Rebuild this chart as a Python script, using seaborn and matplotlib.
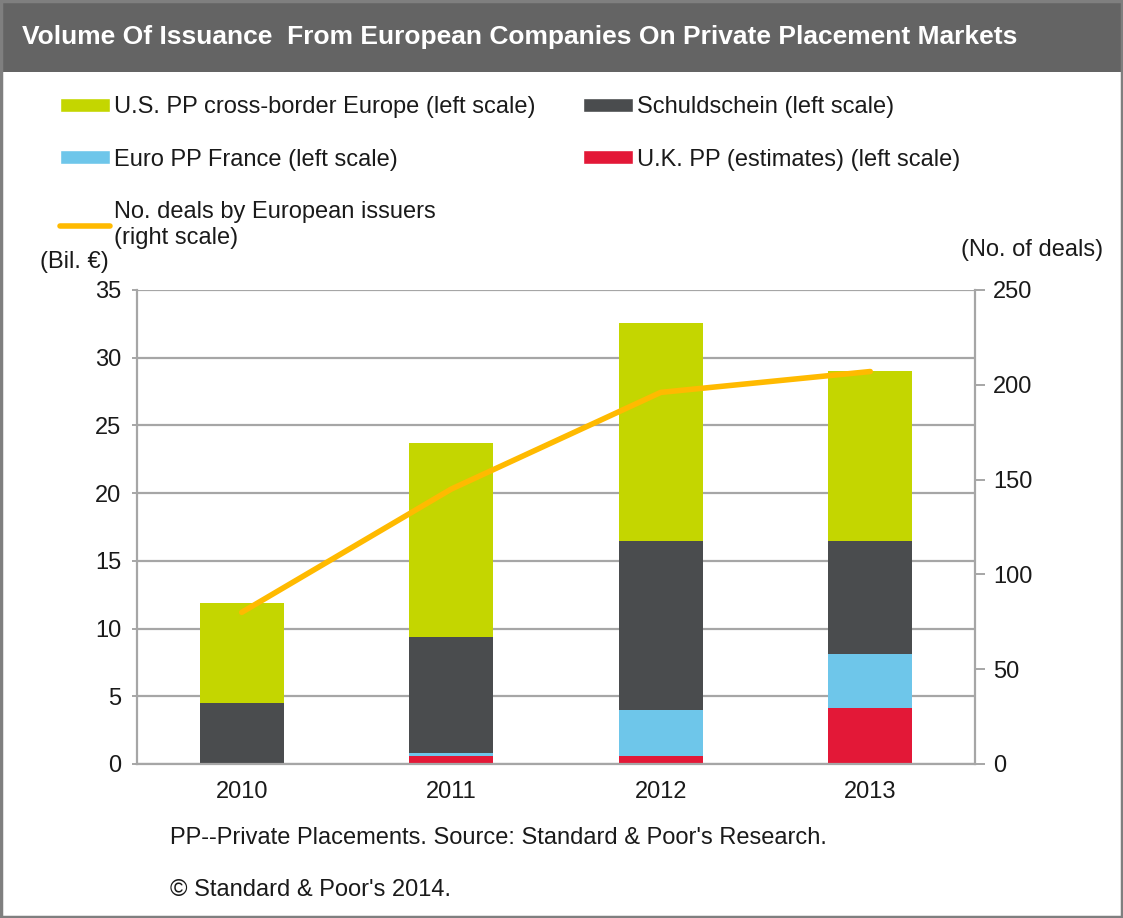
"""
Volume of issuance from European companies on private placement markets.

Stacked bars (left scale, bil. EUR) with number of deals line (right scale).
Output: out.png
"""

import matplotlib.pyplot as plt
import numpy as np
import pandas as pd
import seaborn as sns
from matplotlib.lines import Line2D
from matplotlib.patches import Patch, Rectangle

YEARS = ["2010", "2011", "2012", "2013"]
UK_PP = [0.0, 0.6, 0.6, 4.1]
EURO_PP = [0.0, 0.2, 3.4, 4.0]
SCHULDSCHEIN = [4.5, 8.6, 12.5, 8.4]
US_PP = [7.4, 14.3, 16.1, 12.5]
DEALS = [80, 145, 196, 207]

SERIES = [
    ("U.S. PP cross-border Europe (left scale)", US_PP, "#C4D600"),
    ("Schuldschein (left scale)", SCHULDSCHEIN, "#4A4C4E"),
    ("Euro PP France (left scale)", EURO_PP, "#6EC6EA"),
    ("U.K. PP (estimates) (left scale)", UK_PP, "#E31837"),
]
LINE_LABEL = "No. deals by European issuers\n(right scale)"
LINE_COLOR = "#FFBA00"
GRID = "#A6A6A6"
TEXT = "#1A1A1A"
FS = 17

DPI = 100


def main() -> None:
    sns.set_style("white")
    plt.rcParams["font.family"] = ["Liberation Sans", "DejaVu Sans"]

    fig = plt.figure(figsize=(11.23, 9.18), dpi=DPI)
    ax = fig.add_axes([137 / 1123, 1 - 764 / 918, 838 / 1123, 474 / 918])

    # stacked bars: draw cumulative totals from the top segment down
    stack = np.vstack([s[1] for s in SERIES[::-1]])  # bottom -> top
    cum = np.cumsum(stack, axis=0)
    for i, (name, _, color) in enumerate(SERIES):
        level = len(SERIES) - 1 - i
        df = pd.DataFrame({"year": YEARS, "value": cum[level]})
        sns.barplot(data=df, x="year", y="value", color=color, width=0.40,
                    saturation=1, ax=ax, zorder=2, linewidth=0)

    ax.set_ylim(0, 35)
    ax.set_xlim(-0.5, 3.5)
    ax.set_yticks(np.arange(0, 36, 5))
    ax.yaxis.grid(True, color=GRID, linewidth=1.6, zorder=0)
    ax.set_axisbelow(True)
    ax.set_xlabel("")
    ax.set_ylabel("")
    ax.set_xticks(np.arange(-0.5, 4, 1), minor=True)
    ax.tick_params(axis="x", which="major", length=0, pad=12,
                   labelsize=FS, labelcolor=TEXT)
    ax.tick_params(axis="x", which="minor", length=8, width=1.4, color=GRID)
    ax.tick_params(axis="y", length=3.5, width=1.4, color=GRID, left=True,
                   labelsize=FS, labelcolor=TEXT, pad=8)
    for side in ("left", "bottom"):
        ax.spines[side].set_color(GRID)
        ax.spines[side].set_linewidth(1.6)
    ax.spines["top"].set_visible(False)
    ax.spines["right"].set_visible(False)

    ax2 = ax.twinx()
    sns.lineplot(x=np.arange(len(YEARS)), y=DEALS, color=LINE_COLOR,
                 linewidth=4, ax=ax2, zorder=3)
    ax2.set_ylim(0, 250)
    ax2.set_yticks(np.arange(0, 251, 50))
    ax2.tick_params(axis="y", length=7, width=1.4, color=GRID, right=True,
                    labelsize=FS, labelcolor=TEXT, pad=6)
    for side in ("left", "top", "bottom"):
        ax2.spines[side].set_visible(False)
    ax2.spines["right"].set_color(GRID)
    ax2.spines["right"].set_linewidth(1.6)
    ax2.set_xlim(-0.5, 3.5)

    # legend
    handles = [
        Patch(facecolor=SERIES[0][2], label=SERIES[0][0]),
        Patch(facecolor=SERIES[2][2], label=SERIES[2][0]),
        Line2D([], [], color=LINE_COLOR, linewidth=4, label=LINE_LABEL),
        Patch(facecolor=SERIES[1][2], label=SERIES[1][0]),
        Patch(facecolor=SERIES[3][2], label=SERIES[3][0]),
    ]
    fig.legend(handles=handles, ncol=2, loc="upper left",
               bbox_to_anchor=(60 / 1123, 1 - 96 / 918), frameon=False,
               fontsize=FS, handlelength=2.1, handleheight=0.55,
               handletextpad=0.2, columnspacing=2.0, labelspacing=1.3,
               borderpad=0, borderaxespad=0, labelcolor=TEXT)

    fig.text(40 / 1123, 1 - 262 / 918, "(Bil. €)", fontsize=FS, color=TEXT,
             va="center", ha="left")
    fig.text(1103 / 1123, 1 - 250 / 918, "(No. of deals)", fontsize=FS,
             color=TEXT, va="center", ha="right")
    fig.text(170 / 1123, 1 - 838 / 918,
             "PP--Private Placements. Source: Standard & Poor's Research.",
             fontsize=FS, color=TEXT, va="center")
    fig.text(170 / 1123, 1 - 890 / 918, "© Standard & Poor's 2014.",
             fontsize=FS, color=TEXT, va="center")

    # title bar and frame
    fig.patches.append(Rectangle((0, 1 - 72 / 918), 1, 72 / 918,
                                 transform=fig.transFigure, facecolor="#646464",
                                 edgecolor="none", zorder=0))
    fig.text(22 / 1123, 1 - 37 / 918,
             "Volume Of Issuance  From European Companies On Private Placement Markets",
             fontsize=19, fontweight="bold", color="white", va="center")
    fig.patches.append(Rectangle((0.001, 0.001), 0.998, 0.998,
                                 transform=fig.transFigure, facecolor="none",
                                 edgecolor="#7F7F7F", linewidth=2.5, zorder=5))

    fig.savefig("out.png", dpi=DPI)
    plt.close(fig)


if __name__ == "__main__":
    main()
